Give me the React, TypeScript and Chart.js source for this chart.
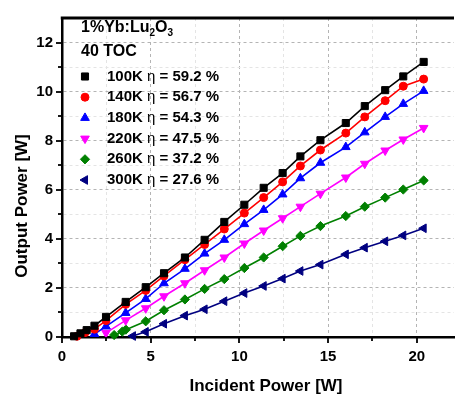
import React, { useEffect, useRef } from 'react';
import { Chart, registerables } from 'chart.js';

Chart.register(...registerables);

const FONT = '"Liberation Sans", Arial, Helvetica, sans-serif';

// ---- data ----
const xTicks = [0, 2.5, 5, 7.5, 10, 12.5, 15, 17.5, 20];
const xTickLabels = ['0', '', '5', '', '10', '', '15', '', '20'];
const yTicks = [0, 1, 2, 3, 4, 5, 6, 7, 8, 9, 10, 11, 12];
const yTickLabels = ['0', '', '2', '', '4', '', '6', '', '8', '', '10', '', '12'];

const xTitle = 'Incident Power [W]';
const yTitle = 'Output Power [W]';
const crystal = ['1%Yb:Lu', '2', 'O', '3'];
const couplerLabel = '40 TOC';

const seriesLabels = ['100K', '140K', '180K', '220K', '260K', '300K'];
const efficiencies = ['59.2', '56.7', '54.3', '47.5', '37.2', '27.6'];

const x100 = [0.68, 1.04, 1.39, 1.83, 2.48, 3.59, 4.72, 5.75, 6.93, 8.04, 9.15, 10.28, 11.37, 12.44, 13.44, 14.57, 16.0, 17.07, 18.22, 19.24, 20.39];
const y100 = [0.03, 0.15, 0.28, 0.46, 0.82, 1.43, 2.03, 2.6, 3.24, 3.96, 4.69, 5.39, 6.08, 6.68, 7.36, 8.02, 8.72, 9.41, 10.06, 10.62, 11.21];

const x140 = [0.85, 1.3, 1.83, 2.48, 3.59, 4.72, 5.75, 6.93, 8.04, 9.15, 10.28, 11.37, 12.44, 13.44, 14.57, 16.0, 17.07, 18.22, 19.24, 20.39];
const y140 = [0.03, 0.18, 0.32, 0.67, 1.33, 1.9, 2.49, 3.15, 3.77, 4.4, 5.05, 5.68, 6.32, 6.97, 7.62, 8.31, 8.97, 9.63, 10.22, 10.51];

const x180 = [1.83, 2.48, 3.59, 4.72, 5.75, 6.93, 8.04, 9.15, 10.28, 11.37, 12.44, 13.44, 14.57, 16.0, 17.07, 18.22, 19.24, 20.39];
const y180 = [0.12, 0.43, 0.98, 1.55, 2.19, 2.78, 3.4, 3.96, 4.6, 5.18, 5.81, 6.47, 7.1, 7.74, 8.34, 8.97, 9.5, 10.03];

const x220 = [2.48, 3.59, 4.72, 5.75, 6.93, 8.04, 9.15, 10.28, 11.37, 12.44, 13.44, 14.57, 16.0, 17.07, 18.22, 19.24, 20.39];
const y220 = [0.17, 0.68, 1.17, 1.66, 2.19, 2.72, 3.24, 3.81, 4.34, 4.84, 5.31, 5.84, 6.5, 7.06, 7.6, 8.05, 8.52];

const x260 = [2.94, 3.4, 3.6, 4.72, 5.75, 6.93, 8.04, 9.15, 10.28, 11.37, 12.44, 13.44, 14.57, 16.0, 17.07, 18.22, 19.24, 20.39];
const y260 = [0.08, 0.22, 0.3, 0.64, 1.09, 1.53, 1.96, 2.36, 2.81, 3.24, 3.7, 4.12, 4.52, 4.93, 5.31, 5.68, 6.01, 6.38];

const x300 = [4.0, 4.72, 5.75, 6.93, 8.04, 9.15, 10.28, 11.37, 12.44, 13.44, 14.57, 16.0, 17.07, 18.22, 19.24, 20.39];
const y300 = [0.04, 0.21, 0.54, 0.87, 1.13, 1.46, 1.79, 2.08, 2.38, 2.69, 2.95, 3.37, 3.64, 3.9, 4.14, 4.43];

const seriesX = [x100, x140, x180, x220, x260, x300];
const seriesY = [y100, y140, y180, y220, y260, y300];

// ---- styles ----
const colors = ['#000000', '#ff0000', '#0000ff', '#ff00ff', '#008000', '#000080'];
const pointStyles = ['rect', 'circle', 'triangle', 'triangle', 'rectRot', 'triangle'];
const rotations = [0, 0, 0, 180, 0, -90];
const radii = [5, 4, 5, 5, 4.6, 5];

function drawMarker(ctx: CanvasRenderingContext2D, style: string, rot: number, x: number, y: number, r: number, color: string) {
  ctx.save();
  ctx.fillStyle = color;
  ctx.strokeStyle = color;
  ctx.lineWidth = 1;
  ctx.beginPath();
  if (style === 'rect') {
    const s = r * Math.SQRT1_2;
    ctx.rect(x - s, y - s, 2 * s, 2 * s);
  } else if (style === 'circle') {
    ctx.arc(x, y, r, 0, Math.PI * 2);
  } else if (style === 'triangle') {
    let a = (rot * Math.PI) / 180;
    for (let i = 0; i < 3; i++) {
      const px = x + Math.sin(a) * r;
      const py = y - Math.cos(a) * r;
      if (i === 0) ctx.moveTo(px, py);
      else ctx.lineTo(px, py);
      a += (2 * Math.PI) / 3;
    }
    ctx.closePath();
  } else {
    ctx.moveTo(x, y - r);
    ctx.lineTo(x + r, y);
    ctx.lineTo(x, y + r);
    ctx.lineTo(x - r, y);
    ctx.closePath();
  }
  ctx.fill();
  ctx.stroke();
  ctx.restore();
}

const decorPlugin = {
  id: 'decor',
  afterDraw(chart: any) {
    const ctx: CanvasRenderingContext2D = chart.ctx;
    const { left, right, top, bottom } = chart.chartArea;
    const xs = chart.scales.x;
    const ys = chart.scales.y;
    ctx.save();
    // tick marks (outward)
    ctx.strokeStyle = '#000';
    ctx.lineWidth = 1.8;
    xTicks.forEach((v, i) => {
      const px = Math.round(xs.getPixelForValue(v));
      const len = xTickLabels[i] ? 6 : 4;
      ctx.beginPath();
      ctx.moveTo(px, bottom);
      ctx.lineTo(px, bottom + len);
      ctx.stroke();
    });
    yTicks.forEach((v, i) => {
      const py = Math.round(ys.getPixelForValue(v));
      const len = yTickLabels[i] ? 6 : 4;
      ctx.beginPath();
      ctx.moveTo(left, py);
      ctx.lineTo(left - len, py);
      ctx.stroke();
    });
    // top frame line
    ctx.lineWidth = 3;
    ctx.beginPath();
    ctx.moveTo(left - 1.25, top);
    ctx.lineTo(right, top);
    ctx.stroke();

    // axis titles
    ctx.fillStyle = '#000';
    ctx.font = `bold 17px ${FONT}`;
    ctx.textAlign = 'center';
    ctx.textBaseline = 'middle';
    ctx.fillText(xTitle, 266, 386);
    ctx.save();
    ctx.translate(22, 206);
    ctx.rotate(-Math.PI / 2);
    ctx.fillText(yTitle, 0, 0);
    ctx.restore();

    // legend block
    ctx.textAlign = 'left';
    let tx = 81;
    const ty = 28;
    ctx.font = `bold 16px ${FONT}`;
    ctx.fillText(crystal[0], tx, ty);
    tx += ctx.measureText(crystal[0]).width;
    ctx.font = `bold 10px ${FONT}`;
    ctx.fillText(crystal[1], tx, ty + 5);
    tx += ctx.measureText(crystal[1]).width;
    ctx.font = `bold 16px ${FONT}`;
    ctx.fillText(crystal[2], tx, ty);
    tx += ctx.measureText(crystal[2]).width;
    ctx.font = `bold 10px ${FONT}`;
    ctx.fillText(crystal[3], tx, ty + 5);

    ctx.font = `bold 16px ${FONT}`;
    ctx.fillText(couplerLabel, 81, 52);

    seriesLabels.forEach((lab, i) => {
      const ry = 76.5 + i * 20.7;
      drawMarker(ctx, pointStyles[i], rotations[i], 85, ry, radii[i], colors[i]);
      let x = 107;
      ctx.font = `bold 15px ${FONT}`;
      const a = lab + ' ';
      ctx.fillText(a, x, ry);
      x += ctx.measureText(a).width;
      ctx.font = `15px ${FONT}`;
      ctx.fillText('\u03B7', x, ry);
      x += ctx.measureText('\u03B7').width;
      ctx.font = `bold 15px ${FONT}`;
      ctx.fillText(' = ' + efficiencies[i] + ' %', x, ry);
    });
    ctx.restore();
  },
};

export default function App() {
  const canvasRef = useRef<HTMLCanvasElement | null>(null);

  useEffect(() => {
    const canvas = canvasRef.current;
    if (!canvas) return;
    const datasets = seriesLabels.map((lab, i) => ({
      label: lab,
      data: seriesX[i].map((x, j) => ({ x, y: seriesY[i][j] })),
      borderColor: colors[i],
      backgroundColor: colors[i],
      pointBackgroundColor: colors[i],
      pointBorderColor: colors[i],
      pointBorderWidth: 1,
      pointStyle: pointStyles[i],
      pointRotation: rotations[i],
      pointRadius: radii[i],
      borderWidth: 1.6,
      tension: 0,
      showLine: true,
      clip: false as any,
    }));

    const chart = new Chart(canvas, {
      type: 'line',
      data: { datasets },
      options: {
        animation: false,
        responsive: false,
        devicePixelRatio: 1,
        layout: { padding: { top: 9, left: 0, right: 0, bottom: 0 } },
        plugins: { legend: { display: false }, tooltip: { enabled: false } },
        scales: {
          x: {
            type: 'linear',
            min: 0,
            max: 22.1,
            afterBuildTicks: (scale: any) => {
              scale.ticks = xTicks.map((v) => ({ value: v }));
            },
            afterFit: (scale: any) => {
              scale.height = 59;
            },
            ticks: {
              callback: (_v: any, i: number) => xTickLabels[i],
              font: { family: FONT, size: 15, weight: 'bold' },
              color: '#000',
              padding: 11,
              maxRotation: 0,
              autoSkip: false,
            },
            grid: {
              drawTicks: false,
              lineWidth: 1,
              color: (c: any) => (c.tick && c.tick.value % 5 === 0 ? '#b4b4b4' : '#e4e4e4'),
            },
            border: { display: true, color: '#000', width: 2.5, dash: [3, 3] },
          },
          y: {
            type: 'linear',
            min: 0,
            max: 13,
            afterBuildTicks: (scale: any) => {
              scale.ticks = yTicks.map((v) => ({ value: v }));
            },
            afterFit: (scale: any) => {
              scale.width = 62;
            },
            ticks: {
              callback: (_v: any, i: number) => yTickLabels[i],
              font: { family: FONT, size: 15, weight: 'bold' },
              color: '#000',
              padding: 9,
              autoSkip: false,
            },
            grid: {
              drawTicks: false,
              lineWidth: 1,
              color: (c: any) => (c.tick && c.tick.value % 2 === 0 ? '#b4b4b4' : '#e4e4e4'),
            },
            border: { display: true, color: '#000', width: 2.5, dash: [3, 3] },
          },
        },
      },
      plugins: [decorPlugin],
    } as any);
    return () => chart.destroy();
  }, []);

  return (
    <div style={{ position: 'fixed', left: 0, top: 0, width: 460, height: 396, background: '#fff' }}>
      <canvas ref={canvasRef} width={460} height={396} style={{ width: 460, height: 396, display: 'block' }} />
    </div>
  );
}
